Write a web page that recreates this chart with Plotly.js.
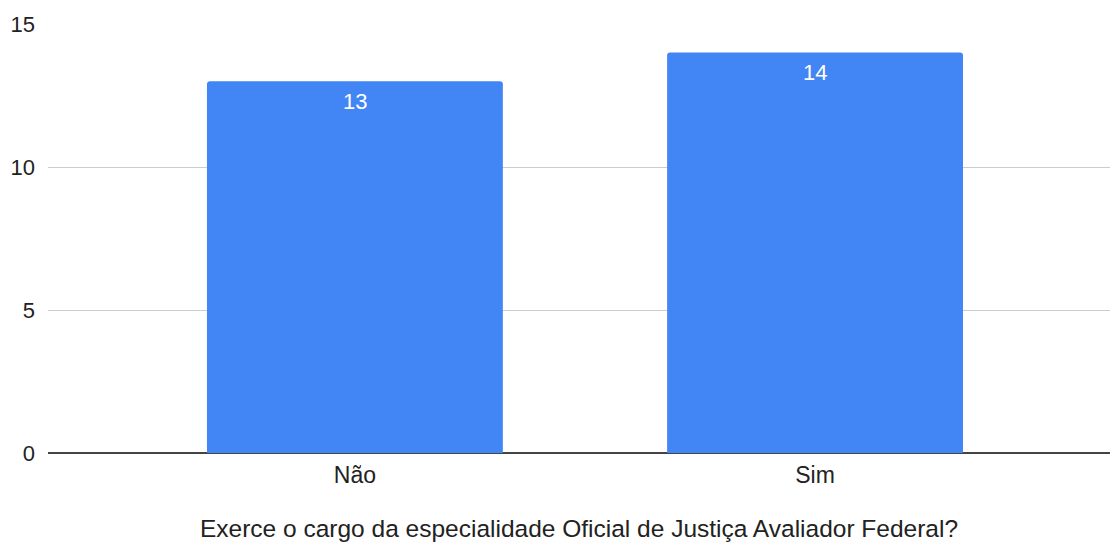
<!DOCTYPE html>
<html><head><meta charset="utf-8">
<script src="https://cdn.plot.ly/plotly-3.0.1.min.js"></script>
<style>html,body{margin:0;padding:0;background:#fff}#chart{width:1110px;height:542px}</style>
</head><body><div id="chart"></div>
<script>
const categories = ["Não", "Sim"];
const values = [13, 14];
const yTicks = [0, 5, 10, 15];
const xTitle = "Exerce o cargo da especialidade Oficial de Justiça Avaliador Federal?";

const font = "'Liberation Sans', Arial, sans-serif";
const trace = {
  type: "bar",
  x: [0, 1],
  y: values,
  width: 0.643,
  marker: {color: "#4285F4", cornerradius: 3},
  textposition: "none",
  hoverinfo: "none"
};
const annotations = values.map((v, i) => ({
  x: i, y: v, xref: "x", yref: "y", text: String(v), showarrow: false,
  yanchor: "middle", yshift: -20, font: {family: font, size: 22, color: "#ffffff"}
}));
const layout = {
  width: 1110, height: 542,
  margin: {l: 48, r: 0, t: 24, b: 89},
  paper_bgcolor: "#fff", plot_bgcolor: "#fff",
  showlegend: false,
  font: {family: font, size: 22, color: "#222"},
  xaxis: {
    range: [-0.667, 1.641],
    tickvals: [0, 1], ticktext: categories,
    showgrid: false, zeroline: false, showline: false, ticks: "",
    ticklabelstandoff: 6,
    tickfont: {family: font, size: 23, color: "#222"},
    title: {text: xTitle, standoff: 34, font: {family: font, size: 24.5, color: "#222"}},
    fixedrange: true
  },
  yaxis: {
    range: [0, 15], tickvals: yTicks, ticktext: yTicks.map(String),
    showgrid: true, gridcolor: "#cccccc", gridwidth: 1,
    zeroline: true, zerolinecolor: "#444", zerolinewidth: 1.5,
    ticks: "", ticklabelstandoff: 12,
    tickfont: {family: font, size: 22, color: "#222"},
    fixedrange: true
  },
  annotations: annotations
};
Plotly.newPlot("chart", [trace], layout, {staticPlot: true, displayModeBar: false});
</script></body></html>
